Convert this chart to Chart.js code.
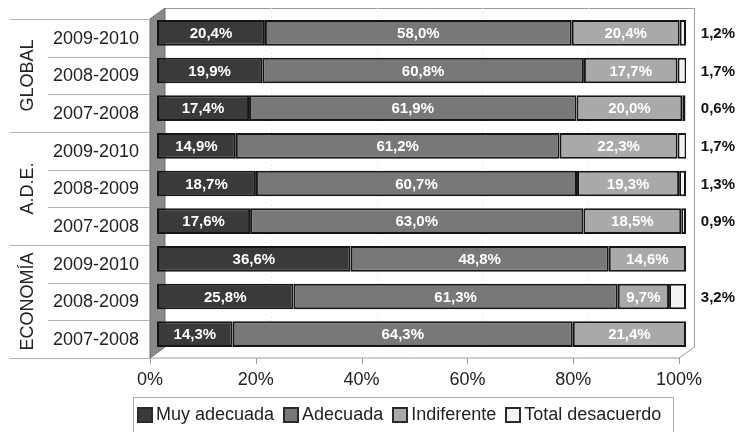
<!DOCTYPE html>
<html>
<head>
<meta charset="utf-8">
<script src="https://cdn.jsdelivr.net/npm/chart.js@4/dist/chart.umd.min.js"></script>
<style>
  html, body { margin: 0; padding: 0; background: #fff; }
  #wrap { position: relative; width: 736px; height: 432px; }
  #legend {
    position: absolute; left: 133px; top: 397px; width: 541px; height: 36px;
    border: 1px solid #aaa; box-sizing: border-box;
    font-family: "Liberation Sans", Arial, sans-serif; font-size: 18px; color: #222;
    display: flex; align-items: flex-start; padding: 6px 0 0 3px;
  }
  #legend .item { display: flex; align-items: center; margin-right: 9px; white-space: nowrap; }
  #legend .box { width: 12px; height: 12px; border: 2px solid #2a2a2a; margin-right: 3px; }
</style>
</head>
<body>
<div id="wrap">
  <canvas id="chart" width="736" height="432"></canvas>
  <div id="legend"></div>
</div>
<script>
// Data
const groupNames = ['GLOBAL', 'A.D.E.', 'ECONOMÍA'];
const yearLabels = ['2009-2010', '2008-2009', '2007-2008',
                    '2009-2010', '2008-2009', '2007-2008',
                    '2009-2010', '2008-2009', '2007-2008'];
const seriesNames = ['Muy adecuada', 'Adecuada', 'Indiferente', 'Total desacuerdo'];
const muyAdecuada = [20.4, 19.9, 17.4, 14.9, 18.7, 17.6, 36.6, 25.8, 14.3];
const adecuada = [58.0, 60.8, 61.9, 61.2, 60.7, 63.0, 48.8, 61.3, 64.3];
const indiferente = [20.4, 17.7, 20.0, 22.3, 19.3, 18.5, 14.6, 9.7, 21.4];
const totalDesacuerdo = [1.2, 1.7, 0.6, 1.7, 1.3, 0.9, 0, 3.2, 0];
const xTicks = [0, 20, 40, 60, 80, 100];

const FONT = '"Liberation Sans", Arial, sans-serif';
const baseColors = ['#3a3a3a', '#787878', '#a9a9a9', '#f2f2f2'];
const lightColors = ['#4a4a4a', '#8c8c8c', '#c4c4c4', '#ffffff'];
const darkColors = ['#2e2e2e', '#6a6a6a', '#9a9a9a', '#dedede'];

// offsets of the fake 3D planes relative to the bar plane
const FRONT = { dx: -7, dy: 5 };
const BACK = { dx: 8, dy: -6 };

function fmt(v) {
  return v.toFixed(1).replace('.', ',') + '%';
}

// vertical gradient per bar so the segments look a bit rounded
function barFill(i) {
  return (ctx) => {
    const chart = ctx.chart;
    if (!chart.chartArea || ctx.type !== 'data') return baseColors[i];
    const el = chart.getDatasetMeta(ctx.datasetIndex).data[ctx.dataIndex];
    if (!el || !el.height) return baseColors[i];
    const top = el.y - el.height / 2;
    const g = chart.ctx.createLinearGradient(0, top, 0, top + el.height);
    g.addColorStop(0, darkColors[i]);
    g.addColorStop(0.2, lightColors[i]);
    g.addColorStop(0.45, baseColors[i]);
    g.addColorStop(1, darkColors[i]);
    return g;
  };
}

const seriesData = [muyAdecuada, adecuada, indiferente, totalDesacuerdo];

// frame, wall, floor and the category labels on the left
const framePlugin = {
  id: 'frame',
  beforeDatasetsDraw(chart) {
    const { ctx, chartArea: a, scales } = chart;
    const x = scales.x;
    ctx.save();
    // back panel
    ctx.strokeStyle = '#9a9a9a';
    ctx.lineWidth = 1;
    ctx.beginPath();
    ctx.moveTo(a.left + BACK.dx, a.top + BACK.dy + 0.5);
    ctx.lineTo(a.right + BACK.dx + 0.5, a.top + BACK.dy + 0.5);
    ctx.lineTo(a.right + BACK.dx + 0.5, a.bottom + BACK.dy);
    ctx.lineTo(a.right + FRONT.dx, a.bottom + FRONT.dy);
    ctx.lineTo(a.left + FRONT.dx, a.bottom + FRONT.dy);
    ctx.stroke();
    // faint dotted grid on the back wall
    ctx.strokeStyle = '#e2e2e2';
    ctx.setLineDash([1, 3]);
    xTicks.slice(1, -1).forEach(v => {
      const px = Math.round(x.getPixelForValue(v) + BACK.dx) + 0.5;
      ctx.beginPath();
      ctx.moveTo(px, a.top + BACK.dy);
      ctx.lineTo(px, a.bottom + BACK.dy);
      ctx.lineTo(px - BACK.dx + FRONT.dx, a.bottom + FRONT.dy);
      ctx.stroke();
    });
    ctx.setLineDash([]);
    // left wall
    ctx.fillStyle = '#8a8a8a';
    ctx.beginPath();
    ctx.moveTo(a.left + FRONT.dx, a.top + FRONT.dy);
    ctx.lineTo(a.left + BACK.dx, a.top + BACK.dy);
    ctx.lineTo(a.left + BACK.dx, a.bottom + BACK.dy);
    ctx.lineTo(a.left + FRONT.dx, a.bottom + FRONT.dy);
    ctx.closePath();
    ctx.fill();
    ctx.strokeStyle = '#6e6e6e';
    ctx.stroke();
    // tick marks under the front edge
    ctx.strokeStyle = '#9a9a9a';
    xTicks.forEach(v => {
      const px = Math.round(x.getPixelForValue(v) + FRONT.dx) + 0.5;
      ctx.beginPath();
      ctx.moveTo(px, a.bottom + FRONT.dy);
      ctx.lineTo(px, a.bottom + FRONT.dy + 6);
      ctx.stroke();
    });
    // separators and labels on the left
    const y = scales.y;
    const rowH = (a.bottom - a.top) / yearLabels.length;
    ctx.strokeStyle = '#b0b0b0';
    for (let i = 0; i <= yearLabels.length; i++) {
      const py = Math.round(a.top + i * rowH + FRONT.dy) + 0.5;
      ctx.beginPath();
      ctx.moveTo(i % 3 === 0 ? 10 : 48, py);
      ctx.lineTo(a.left + FRONT.dx, py);
      ctx.stroke();
    }
    ctx.fillStyle = '#222';
    ctx.font = '18px ' + FONT;
    ctx.textAlign = 'right';
    ctx.textBaseline = 'middle';
    yearLabels.forEach((lab, i) => {
      ctx.fillText(lab, 139, y.getPixelForValue(i) + FRONT.dy + 1);
    });
    ctx.textAlign = 'center';
    groupNames.forEach((g, gi) => {
      const cy = (y.getPixelForValue(gi * 3) + y.getPixelForValue(gi * 3 + 2)) / 2 + FRONT.dy;
      ctx.save();
      ctx.translate(27, cy);
      ctx.rotate(-Math.PI / 2);
      ctx.fillText(g, 0, 1);
      ctx.restore();
    });
    ctx.restore();
  },
  afterDatasetsDraw(chart) {
    const { ctx } = chart;
    ctx.save();
    ctx.font = 'bold 15px ' + FONT;
    ctx.textBaseline = 'middle';
    chart.data.datasets.forEach((ds, di) => {
      const meta = chart.getDatasetMeta(di);
      meta.data.forEach((el, i) => {
        const v = ds.data[i];
        if (!v) return;
        if (di < 3) {
          ctx.fillStyle = '#ffffff';
          ctx.textAlign = 'center';
          ctx.fillText(fmt(v), (el.x + el.base) / 2, el.y + 1);
        } else {
          ctx.fillStyle = '#111';
          ctx.textAlign = 'right';
          ctx.fillText(fmt(v), 735, el.y + 1);
        }
      });
    });
    ctx.restore();
  }
};

new Chart(document.getElementById('chart'), {
  type: 'bar',
  data: {
    labels: yearLabels,
    datasets: seriesNames.map((name, i) => ({
      label: name,
      data: seriesData[i],
      backgroundColor: barFill(i),
      borderColor: '#151515',
      borderWidth: 2,
      borderSkipped: false,
      barPercentage: 0.68,
      categoryPercentage: 1
    }))
  },
  options: {
    indexAxis: 'y',
    responsive: false,
    animation: false,
    layout: { padding: { left: 157, right: 50, top: 14, bottom: 29 } },
    plugins: { legend: { display: false }, tooltip: { enabled: false } },
    scales: {
      x: {
        stacked: true,
        min: 0,
        max: 100,
        grid: { display: false },
        border: { display: false },
        afterBuildTicks: (axis) => { axis.ticks = xTicks.map(v => ({ value: v })); },
        afterFit: (axis) => { axis.height = 50; },
        ticks: {
          padding: 8,
          labelOffset: -7,
          color: '#222',
          font: { family: FONT, size: 18 },
          callback: (v) => v + '%'
        }
      },
      y: { stacked: true, display: false }
    }
  },
  plugins: [framePlugin]
});

// legend built from the series names
const legend = document.getElementById('legend');
seriesNames.forEach((name, i) => {
  const item = document.createElement('span');
  item.className = 'item';
  const box = document.createElement('span');
  box.className = 'box';
  box.style.background = baseColors[i];
  const txt = document.createElement('span');
  txt.textContent = name;
  item.appendChild(box);
  item.appendChild(txt);
  legend.appendChild(item);
});
</script>
</body>
</html>
